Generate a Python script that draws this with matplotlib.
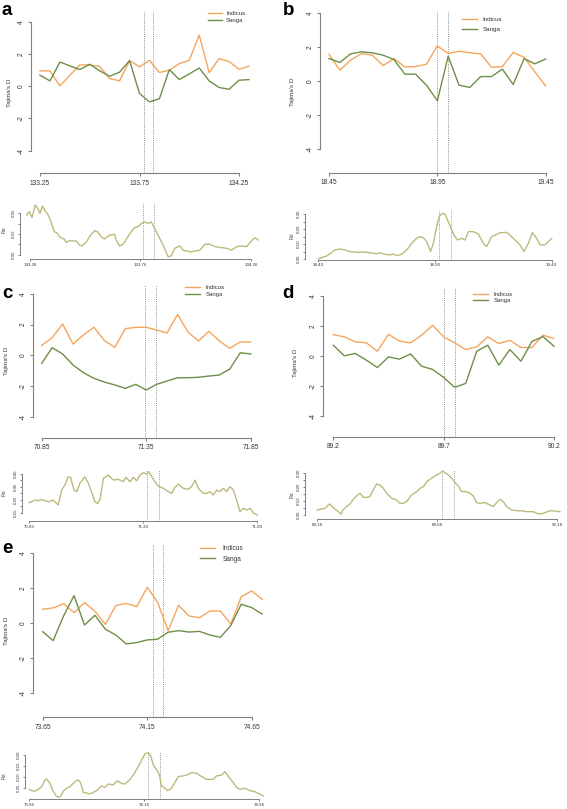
import matplotlib
matplotlib.use('Agg')
import matplotlib.pyplot as plt

plt.rcParams['font.family'] = ['Liberation Sans', 'DejaVu Sans']
plt.rcParams['axes.unicode_minus'] = False

W, H = 567, 809
fig = plt.figure(figsize=(W / 100, H / 100), dpi=100)

ORANGE = '#F5A55C'
GREEN = '#6E8F47'
FSTC = '#BDBA7C'
AXC = '#808080'
TXT = '#333333'
VLC = '#6A6A6A'

# ---------------- data: Tajima's D ----------------
a_pos = [133.25, 133.30, 133.35, 133.40, 133.45, 133.50, 133.55, 133.60, 133.65, 133.70, 133.75,
         133.80, 133.85, 133.90, 133.95, 134.00, 134.05, 134.10, 134.15, 134.20, 134.25, 134.30]
a_ind = [0.95, 0.95, 0.02, 0.68, 1.32, 1.32, 1.22, 0.47, 0.33, 1.59, 1.20,
         1.60, 0.85, 0.99, 1.40, 1.60, 3.17, 0.85, 1.71, 1.53, 1.05, 1.24]
a_san = [0.68, 0.33, 1.50, 1.26, 1.03, 1.36, 0.95, 0.62, 0.87, 1.59, -0.45,
         -0.97, -0.78, 1.03, 0.41, 0.76, 1.13, 0.33, -0.08, -0.19, 0.37, 0.41]

b_pos = [18.45, 18.50, 18.55, 18.60, 18.65, 18.70, 18.75, 18.80, 18.85, 18.90, 18.95,
         19.00, 19.05, 19.10, 19.15, 19.20, 19.25, 19.30, 19.35, 19.40, 19.45]
b_ind = [1.59, 0.65, 1.24, 1.63, 1.53, 0.92, 1.33, 0.84, 0.86, 1.00, 2.08,
         1.63, 1.76, 1.67, 1.61, 0.82, 0.86, 1.69, 1.41, 0.55, -0.29]
b_san = [1.33, 1.10, 1.61, 1.73, 1.67, 1.53, 1.27, 0.41, 0.41, -0.24, -1.16,
         1.47, -0.24, -0.37, 0.27, 0.27, 0.71, -0.20, 1.33, 1.02, 1.31]

c_pos = [70.85, 70.90, 70.95, 71.00, 71.05, 71.10, 71.15, 71.20, 71.25, 71.30, 71.35,
         71.40, 71.45, 71.50, 71.55, 71.60, 71.65, 71.70, 71.75, 71.80, 71.85]
c_ind = [0.65, 1.15, 2.04, 0.74, 1.33, 1.83, 0.96, 0.52, 1.74, 1.83, 1.83,
         1.65, 1.46, 2.67, 1.52, 0.93, 1.57, 0.93, 0.46, 0.87, 0.87]
c_san = [-0.52, 0.50, 0.09, -0.63, -1.13, -1.50, -1.74, -1.93, -2.15, -1.89, -2.26,
         -1.89, -1.67, -1.46, -1.46, -1.43, -1.35, -1.28, -0.89, 0.17, 0.09]

d_pos = [89.20, 89.25, 89.30, 89.35, 89.40, 89.45, 89.50, 89.55, 89.60, 89.65, 89.70,
         89.75, 89.80, 89.85, 89.90, 89.95, 90.00, 90.05, 90.10, 90.15, 90.20]
d_ind = [1.42, 1.27, 0.93, 0.87, 0.31, 1.44, 0.98, 0.87, 1.38, 2.04, 1.27,
         0.87, 0.42, 0.60, 1.27, 0.82, 1.04, 0.56, 0.56, 1.38, 1.16]
d_san = [0.71, 0.00, 0.16, -0.29, -0.78, -0.07, -0.22, 0.13, -0.69, -0.91, -1.44,
         -2.11, -1.84, 0.31, 0.71, -0.62, 0.42, -0.36, 0.96, 1.29, 0.64]

e_pos = [73.65, 73.70, 73.75, 73.80, 73.85, 73.90, 73.95, 74.00, 74.05, 74.10, 74.15,
         74.20, 74.25, 74.30, 74.35, 74.40, 74.45, 74.50, 74.55, 74.60, 74.65, 74.70]
e_ind = [0.80, 0.88, 1.12, 0.61, 1.18, 0.69, -0.06, 1.01, 1.14, 0.95, 2.06,
         1.20, -0.42, 1.03, 0.42, 0.32, 0.70, 0.70, -0.04, 1.52, 1.85, 1.37]
e_san = [-0.48, -0.99, 0.42, 1.58, -0.10, 0.46, -0.34, -0.67, -1.18, -1.10, -0.95,
         -0.91, -0.51, -0.42, -0.50, -0.46, -0.67, -0.80, -0.13, 1.09, 0.90, 0.53]

# ---------------- data: Fst ----------------
a_fst_pos = [133.245, 133.257, 133.269, 133.284, 133.295, 133.305, 133.317, 133.330, 133.340, 133.355,
             133.370, 133.381, 133.393, 133.416, 133.423, 133.439, 133.469, 133.484, 133.496, 133.514,
             133.529, 133.552, 133.567, 133.582, 133.597, 133.620, 133.643, 133.650, 133.665, 133.681,
             133.703, 133.718, 133.734, 133.749, 133.764, 133.779, 133.794, 133.809, 133.820, 133.839,
             133.862, 133.885, 133.900, 133.915, 133.938, 133.953, 133.968, 133.991, 134.029, 134.051,
             134.074, 134.097, 134.119, 134.150, 134.172, 134.195, 134.218, 134.240, 134.263, 134.278,
             134.293]
a_fst = [0.242, 0.258, 0.230, 0.290, 0.274, 0.250, 0.285, 0.258, 0.247, 0.209,
         0.161, 0.156, 0.137, 0.124, 0.110, 0.118, 0.116, 0.097, 0.093, 0.110,
         0.137, 0.166, 0.160, 0.137, 0.126, 0.145, 0.148, 0.121, 0.092, 0.100,
         0.137, 0.161, 0.182, 0.185, 0.201, 0.209, 0.201, 0.208, 0.185, 0.145,
         0.097, 0.040, 0.045, 0.081, 0.092, 0.072, 0.068, 0.064, 0.072, 0.100,
         0.101, 0.089, 0.085, 0.081, 0.072, 0.089, 0.092, 0.089, 0.118, 0.132,
         0.121]

b_fst_pos = [18.430, 18.444, 18.466, 18.487, 18.501, 18.523, 18.544, 18.566, 18.594, 18.623,
             18.651, 18.680, 18.694, 18.709, 18.737, 18.751, 18.766, 18.787, 18.809, 18.830,
             18.851, 18.866, 18.880, 18.894, 18.911, 18.923, 18.937, 18.949, 18.963, 18.973,
             18.987, 18.997, 19.011, 19.026, 19.044, 19.059, 19.073, 19.094, 19.116, 19.137,
             19.151, 19.173, 19.209, 19.237, 19.251, 19.273, 19.294, 19.311, 19.330, 19.347,
             19.366, 19.380, 19.401, 19.430]
b_fst = [0.002, 0.011, 0.022, 0.044, 0.062, 0.068, 0.062, 0.051, 0.046, 0.048,
         0.044, 0.037, 0.044, 0.035, 0.029, 0.035, 0.024, 0.033, 0.062, 0.106,
         0.139, 0.150, 0.143, 0.117, 0.051, 0.106, 0.216, 0.286, 0.304, 0.298,
         0.249, 0.211, 0.161, 0.128, 0.139, 0.128, 0.183, 0.183, 0.167, 0.106,
         0.084, 0.150, 0.176, 0.178, 0.161, 0.128, 0.095, 0.051, 0.106, 0.176,
         0.139, 0.095, 0.095, 0.139]

c_fst_pos = [70.830, 70.840, 70.855, 70.869, 70.884, 70.899, 70.913, 70.928, 70.935, 70.950,
             70.957, 70.965, 70.972, 70.986, 71.001, 71.011, 71.026, 71.038, 71.052, 71.074,
             71.089, 71.103, 71.118, 71.130, 71.140, 71.155, 71.176, 71.198, 71.220, 71.242,
             71.254, 71.272, 71.286, 71.301, 71.315, 71.330, 71.345, 71.356, 71.367, 71.381,
             71.396, 71.418, 71.440, 71.454, 71.469, 71.484, 71.505, 71.527, 71.542, 71.557,
             71.571, 71.593, 71.608, 71.622, 71.637, 71.652, 71.666, 71.681, 71.695, 71.710,
             71.725, 71.739, 71.754, 71.769, 71.783, 71.798, 71.812, 71.830]
c_fst = [0.228, 0.235, 0.248, 0.243, 0.253, 0.243, 0.235, 0.243, 0.248, 0.222,
         0.210, 0.274, 0.326, 0.365, 0.429, 0.424, 0.326, 0.313, 0.378, 0.429,
         0.378, 0.313, 0.235, 0.222, 0.253, 0.416, 0.442, 0.403, 0.409, 0.390,
         0.424, 0.390, 0.424, 0.398, 0.442, 0.460, 0.450, 0.468, 0.429, 0.390,
         0.357, 0.339, 0.313, 0.300, 0.347, 0.372, 0.339, 0.331, 0.352, 0.403,
         0.339, 0.300, 0.300, 0.313, 0.287, 0.326, 0.313, 0.339, 0.313, 0.352,
         0.326, 0.248, 0.158, 0.184, 0.171, 0.184, 0.150, 0.132]

d_fst_pos = [89.180, 89.198, 89.212, 89.230, 89.240, 89.254, 89.268, 89.279, 89.286, 89.302,
             89.316, 89.330, 89.344, 89.358, 89.372, 89.386, 89.399, 89.413, 89.427, 89.441,
             89.455, 89.469, 89.490, 89.511, 89.524, 89.538, 89.552, 89.573, 89.594, 89.608,
             89.622, 89.636, 89.656, 89.677, 89.691, 89.701, 89.712, 89.726, 89.740, 89.754,
             89.768, 89.781, 89.802, 89.816, 89.830, 89.844, 89.858, 89.879, 89.899, 89.913,
             89.927, 89.941, 89.955, 89.969, 89.990, 90.011, 90.031, 90.052, 90.080, 90.101,
             90.122, 90.149, 90.170, 90.191]
d_fst = [0.036, 0.043, 0.048, 0.079, 0.065, 0.041, 0.024, 0.005, 0.036, 0.060,
         0.079, 0.113, 0.137, 0.156, 0.127, 0.127, 0.132, 0.180, 0.223, 0.216,
         0.192, 0.156, 0.120, 0.108, 0.084, 0.084, 0.096, 0.144, 0.168, 0.192,
         0.204, 0.240, 0.264, 0.288, 0.300, 0.317, 0.305, 0.288, 0.264, 0.233,
         0.209, 0.168, 0.168, 0.156, 0.137, 0.089, 0.084, 0.089, 0.072, 0.060,
         0.089, 0.113, 0.096, 0.060, 0.036, 0.031, 0.031, 0.024, 0.024, 0.007,
         0.012, 0.031, 0.029, 0.024]

e_fst_pos = [73.660, 73.670, 73.685, 73.699, 73.714, 73.728, 73.735, 73.750, 73.761, 73.776,
             73.786, 73.796, 73.808, 73.822, 73.837, 73.851, 73.863, 73.873, 73.883, 73.895,
             73.906, 73.917, 73.931, 73.953, 73.974, 73.989, 74.003, 74.025, 74.043, 74.061,
             74.076, 74.098, 74.119, 74.141, 74.163, 74.177, 74.188, 74.199, 74.214, 74.225,
             74.235, 74.246, 74.260, 74.274, 74.289, 74.308, 74.330, 74.344, 74.366, 74.388,
             74.409, 74.431, 74.460, 74.474, 74.496, 74.511, 74.532, 74.547, 74.561, 74.576,
             74.598, 74.619, 74.641, 74.656, 74.677]
e_fst = [0.044, 0.038, 0.036, 0.044, 0.056, 0.086, 0.091, 0.071, 0.041, 0.015,
         0.008, 0.011, 0.036, 0.049, 0.056, 0.071, 0.083, 0.086, 0.074, 0.029,
         0.029, 0.023, 0.026, 0.038, 0.059, 0.053, 0.068, 0.064, 0.083, 0.071,
         0.068, 0.089, 0.120, 0.162, 0.205, 0.211, 0.195, 0.155, 0.132, 0.112,
         0.059, 0.053, 0.038, 0.044, 0.068, 0.102, 0.105, 0.109, 0.120, 0.117,
         0.102, 0.089, 0.089, 0.105, 0.109, 0.124, 0.094, 0.074, 0.053, 0.044,
         0.049, 0.038, 0.033, 0.026, 0.014]

# gene region boundaries (Mb)
a_region = [133.772, 133.820]
b_region = [18.947, 18.997]
c_region = [71.345, 71.397]
d_region = [89.700, 89.750]
e_region = [74.176, 74.227]

taj_yticks = [-4, -2, 0, 2, 4]
taj_ylabels = ['-4', '-2', '0', '2', '4']

a_xt = [133.25, 133.75, 134.25]; a_xl = ['133.25', '133.75', '134.25']
b_xt = [18.45, 18.95, 19.45]; b_xl = ['18.45', '18.95', '19.45']
c_xt = [70.85, 71.35, 71.85]; c_xl = ['70.85', '71.35', '71.85']
d_xt = [89.2, 89.7, 90.2]; d_xl = ['89.2', '89.7', '90.2']
e_xt = [73.65, 74.15, 74.65]; e_xl = ['73.65', '74.15', '74.65']

a_fxt = [133.26, 133.76, 134.26]; a_fxl = ['133.26', '133.76', '134.26']
b_fxt = [18.43, 18.93, 19.43]; b_fxl = ['18.43', '18.93', '19.43']
c_fxt = [70.83, 71.33, 71.83]; c_fxl = ['70.83', '71.33', '71.83']
d_fxt = [89.18, 89.68, 90.18]; d_fxl = ['89.18', '89.68', '90.18']
e_fxt = [73.66, 74.16, 74.66]; e_fxl = ['73.66', '74.16', '74.66']

a_fyt = [0.05, 0.10, 0.15, 0.20, 0.25]; a_fyl = ['0.05', '', '0.15', '', '0.25']
b_fyt = [0.00, 0.05, 0.10, 0.15, 0.20, 0.25, 0.30]; b_fyl = ['0.00', '', '0.10', '', '0.20', '', '0.30']
c_fyt = [0.15, 0.20, 0.25, 0.30, 0.35, 0.40, 0.45]; c_fyl = ['0.15', '', '0.25', '', '0.35', '', '0.45']
d_fyt = [0.00, 0.05, 0.10, 0.15, 0.20, 0.25, 0.30]; d_fyl = ['0.00', '', '0.10', '', '0.20', '', '0.30']
e_fyt = [0.05, 0.10, 0.15, 0.20]; e_fyl = ['0.05', '0.10', '0.15', '0.20']


# ---------------- helpers (layout in pixels) ----------------
def make_ax(xcal, ycal, left, right, top, bottom):
    xv1, xp1, xv2, xp2 = xcal
    yv1, yp1, yv2, yp2 = ycal
    sx = (xv2 - xv1) / (xp2 - xp1)
    sy = (yv2 - yv1) / (yp2 - yp1)
    ax = fig.add_axes([left / W, 1 - bottom / H, (right - left) / W, (bottom - top) / H])
    ax.set_xlim(xv1 + (left - xp1) * sx, xv1 + (right - xp1) * sx)
    ax.set_ylim(yv1 + (bottom - yp1) * sy, yv1 + (top - yp1) * sy)
    ax.patch.set_alpha(0)
    return ax


def r_style(ax, xt, xl, yt, yl, fs, tlen, xpad, ypad, lw=0.8):
    for s in ['top', 'right']:
        ax.spines[s].set_visible(False)
    for s in ['left', 'bottom']:
        ax.spines[s].set_color(AXC)
        ax.spines[s].set_linewidth(lw)
    ax.spines['left'].set_bounds(yt[0], yt[-1])
    ax.spines['bottom'].set_bounds(xt[0], xt[-1])
    ax.set_xticks(xt)
    ax.set_xticklabels(xl)
    ax.set_yticks(yt)
    ax.set_yticklabels(yl, rotation=90, va='center')
    ax.tick_params(axis='both', direction='out', length=tlen, width=lw, color=AXC,
                   labelsize=fs, labelcolor=TXT)
    ax.tick_params(axis='x', pad=xpad)
    ax.tick_params(axis='y', pad=ypad)


def taj_panel(pos, ind, san, region, xt, xl, xcal, ycal, box, leg, ylab_x):
    left, right, top, bottom = box
    ax = make_ax(xcal, ycal, left, right, top, bottom)
    for v in region:
        ax.axvline(v, color=VLC, lw=0.6, ls=(0, (1.0, 1.6)))
    l1, = ax.plot(pos, ind, color=ORANGE, lw=1.0)
    l2, = ax.plot(pos, san, color=GREEN, lw=1.0)
    r_style(ax, xt, xl, taj_yticks, taj_ylabels, 4.8, 2.2, 2.5, 2.5)
    hx, ty, fs, hl, htp, ls = leg
    ax.legend([l1, l2], ['Indicus', 'Sanga'], loc='upper left',
              bbox_to_anchor=(hx / W, 1 - ty / H), bbox_transform=fig.transFigure,
              frameon=False, fontsize=fs, handlelength=hl, handletextpad=htp,
              labelspacing=ls, borderpad=0, borderaxespad=0, labelcolor=TXT)
    fig.text(ylab_x / W, 1 - (top + bottom) / 2 / H, "Tajima's D", rotation=90,
             ha='center', va='center', fontsize=4.4, color=TXT)
    return ax


def fst_panel(pos, val, region, xt, xl, yt, yl, xcal, ycal, box, ylab):
    left, right, top, bottom = box
    ax = make_ax(xcal, ycal, left, right, top, bottom)
    for v in region:
        ax.axvline(v, color=VLC, lw=0.55, ls=(0, (1.0, 1.6)))
    ax.plot(pos, val, color=FSTC, lw=1.0)
    r_style(ax, xt, xl, yt, yl, 3.2, 1.5, 1.2, 1.2, lw=0.7)
    fig.text(ylab[0] / W, 1 - ylab[1] / H, 'Fst', rotation=90,
             ha='center', va='center', fontsize=3.4, color=TXT)
    return ax


# ---------------- panels ----------------
taj_panel(a_pos, a_ind, a_san, a_region, a_xt, a_xl,
          (133.25, 40, 134.25, 239), (4, 21.7, -4, 150.7), (31, 257, 12, 173),
          (208, 10.5, 4.3, 2.35, 0.67, 0.42), 9)
fst_panel(a_fst_pos, a_fst, a_region, a_fxt, a_fxl, a_fyt, a_fyl,
          (133.26, 30, 134.26, 251), (0.05, 254.7, 0.25, 213.3), (20, 266, 203, 259.5), (4, 230))

taj_panel(b_pos, b_ind, b_san, b_region, b_xt, b_xl,
          (18.45, 329, 19.45, 545.7), (4, 13.3, -4, 149), (320, 554, 11.7, 172.7),
          (461.7, 17.0, 4.5, 2.4, 0.96, 0.69), 292.7)
fst_panel(b_fst_pos, b_fst, b_region, b_fxt, b_fxl, b_fyt, b_fyl,
          (18.43, 318.3, 19.43, 551.7), (0.0, 259.3, 0.30, 214.0), (305, 560, 210, 259.7), (291.7, 236))

taj_panel(c_pos, c_ind, c_san, c_region, c_xt, c_xl,
          (70.85, 41.7, 71.85, 250.7), (4, 294, -4, 416.7), (33.3, 259, 285, 437.7),
          (185, 284.8, 4.3, 2.5, 1.0, 0.34), 6.7)
fst_panel(c_fst_pos, c_fst, c_region, c_fxt, c_fxl, c_fyt, c_fyl,
          (70.83, 29.3, 71.83, 257.3), (0.45, 474, 0.15, 512.7), (22, 265, 470, 521), (4, 493))

taj_panel(d_pos, d_ind, d_san, d_region, d_xt, d_xl,
          (89.2, 333.3, 90.2, 554), (4, 296, -4, 415.7), (323.3, 563, 288.3, 436.7),
          (472.7, 291.5, 4.3, 2.6, 0.84, 0.22), 295)
fst_panel(d_fst_pos, d_fst, d_region, d_fxt, d_fxl, d_fyt, d_fyl,
          (89.18, 317.3, 90.18, 557.3), (0.30, 473.3, 0.0, 515), (305, 566, 470, 519.3), (291.7, 495))

taj_panel(e_pos, e_ind, e_san, e_region, e_xt, e_xl,
          (73.65, 42.7, 74.65, 251.7), (4, 553.3, -4, 693.3), (33.3, 271, 545, 717.3),
          (200, 545.2, 4.7, 2.3, 1.18, 0.51), 6.7)
fst_panel(e_fst_pos, e_fst, e_region, e_fxt, e_fxl, e_fyt, e_fyl,
          (73.66, 29.3, 74.66, 259.3), (0.20, 755, 0.05, 788), (25, 271, 751.7, 799), (4, 776))

# panel letters
for letter, x, y in [('a', 2, 15), ('b', 283, 15), ('c', 2, 298), ('d', 282, 298), ('e', 2, 553)]:
    fig.text(x / W, 1 - y / H, letter, fontsize=13.5, fontweight='bold', ha='left', va='baseline')

fig.savefig('out.png', dpi=100)
